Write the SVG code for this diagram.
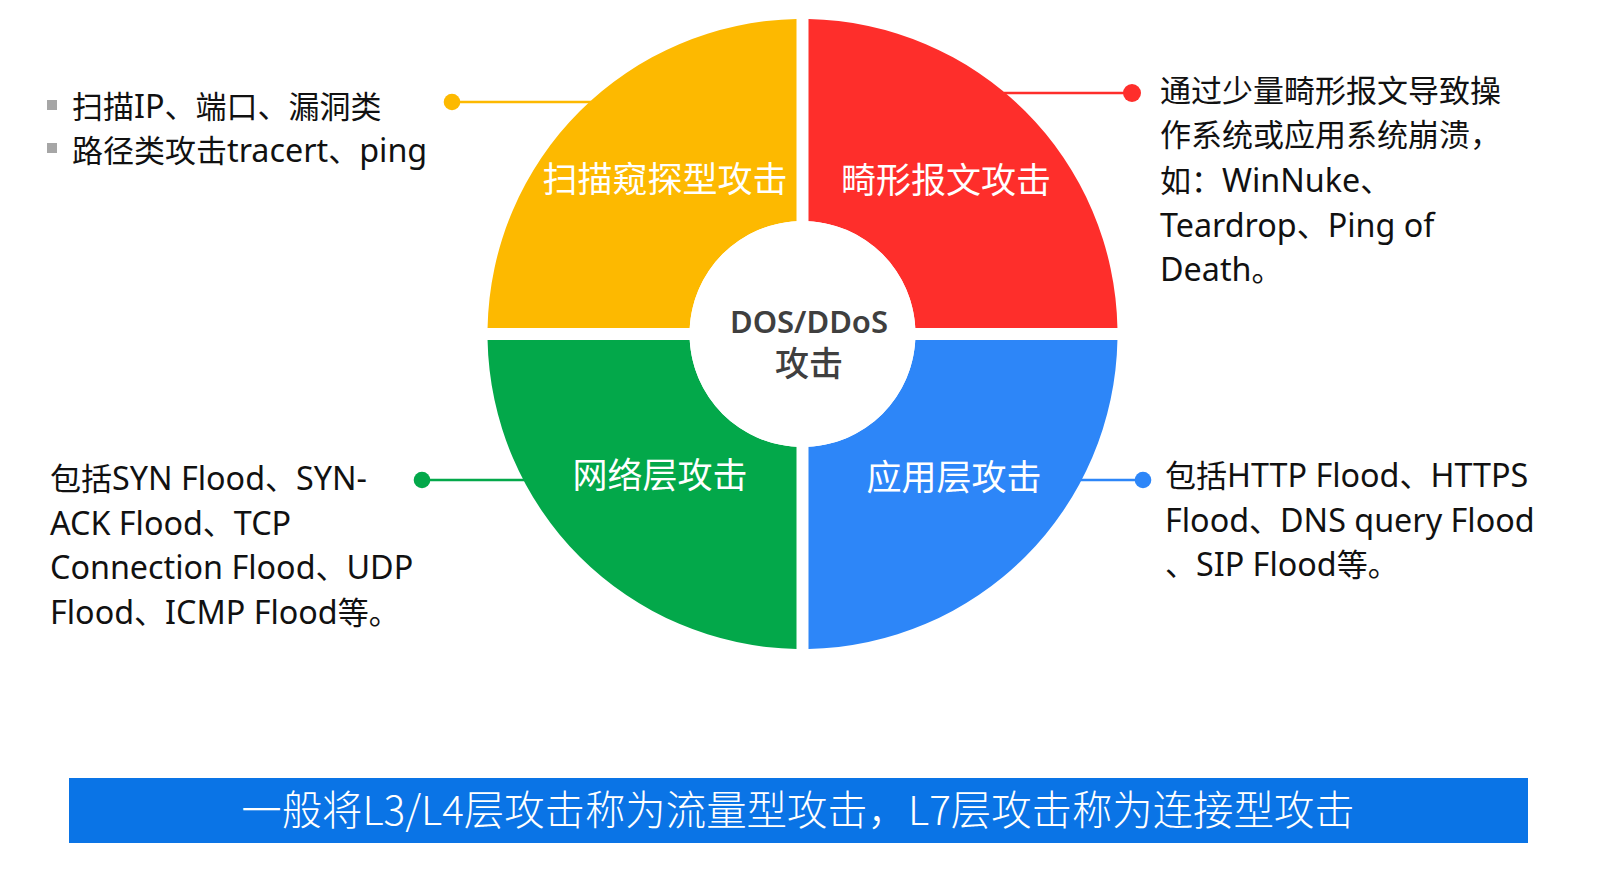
<svg xmlns="http://www.w3.org/2000/svg" width="1604" height="870" viewBox="0 0 1604 870">
  <style>
    .side { font-family: "Noto Sans", "Noto Sans CJK SC", sans-serif; font-size: 31px; fill: #111111; }
    .lt { font-size: 32.3px; }
    .qlabel { font-family: "Noto Sans CJK SC", sans-serif; font-size: 35px; fill: #ffffff; text-anchor: middle; }
    .center { font-family: "Noto Sans", "Noto Sans CJK SC", sans-serif; fill: #3f3f3f; text-anchor: middle; }
    .bullet { fill: #a6a6a6; }
    .conn { stroke-width: 2.5; fill: none; }
    .banner { font-family: "Noto Sans CJK SC", sans-serif; font-weight: 300; font-size: 40.4px; fill: #ffffff; text-anchor: middle; }
  </style>
  <rect width="1604" height="870" fill="#ffffff"/>

  <g id="connectors">
    <line class="conn" x1="452" y1="102" x2="591" y2="102" stroke="#fdb900"/>
    <circle cx="452" cy="102" r="8.3" fill="#fdb900"/>
    <line class="conn" x1="1004" y1="93" x2="1132" y2="93" stroke="#fe2e2b"/>
    <circle cx="1132" cy="93" r="9" fill="#fe2e2b"/>
    <line class="conn" x1="422" y1="480" x2="525" y2="480" stroke="#03a84a"/>
    <circle cx="422" cy="480" r="8.3" fill="#03a84a"/>
    <line class="conn" x1="1080" y1="480" x2="1143" y2="480" stroke="#2d86f8"/>
    <circle cx="1143" cy="480" r="8.3" fill="#2d86f8"/>
  </g>

  <g id="scan">
    <path d="M796.5,19.06 A315,315 0 0 0 487.56,328 L689.66,328 A113,113 0 0 1 796.5,221.16 Z" fill="#fdb900"/>
    <text class="qlabel" x="665" y="192">扫描窥探型攻击</text>
  </g>
  <g id="malformed">
    <path d="M808.5,19.06 A315,315 0 0 1 1117.44,328 L915.34,328 A113,113 0 0 0 808.5,221.16 Z" fill="#fe2e2b"/>
    <text class="qlabel" x="946" y="193">畸形报文攻击</text>
  </g>
  <g id="network">
    <path d="M796.5,648.94 A315,315 0 0 1 487.56,340 L689.66,340 A113,113 0 0 0 796.5,446.84 Z" fill="#03a84a"/>
    <text class="qlabel" x="660" y="488">网络层攻击</text>
  </g>
  <g id="application">
    <path d="M1117.44,340 A315,315 0 0 1 808.5,648.94 L808.5,446.84 A113,113 0 0 0 915.34,340 Z" fill="#2d86f8"/>
    <text class="qlabel" x="954" y="490">应用层攻击</text>
  </g>
  <g id="core">
    <circle cx="802.5" cy="334" r="113" fill="#ffffff"/>
    <text class="center" x="809" y="333" font-size="31" font-weight="600">DOS/DDoS</text>
    <text class="center" x="809" y="376" font-size="34" font-weight="500">攻击</text>
  </g>

  <g id="scan-note">
    <rect class="bullet" x="47" y="100" width="10" height="10"/>
    <rect class="bullet" x="47" y="143" width="10" height="10"/>
    <text class="side" x="72" y="118">扫描<tspan class="lt">IP</tspan>、端口、漏洞类</text>
    <text class="side" x="72" y="162">路径类攻击<tspan class="lt">tracert</tspan>、<tspan class="lt">ping</tspan></text>
  </g>
  <g id="malformed-note">
    <text class="side" x="1160" y="102">通过少量畸形报文导致操</text>
    <text class="side" x="1160" y="146">作系统或应用系统崩溃，</text>
    <text class="side" x="1160" y="192">如：<tspan class="lt">WinNuke</tspan>、</text>
    <text class="side" x="1160" y="237"><tspan class="lt">Teardrop</tspan>、<tspan class="lt">Ping of</tspan></text>
    <text class="side" x="1160" y="281"><tspan class="lt">Death</tspan>。</text>
  </g>
  <g id="network-note">
    <text class="side" x="50" y="490">包括<tspan class="lt">SYN Flood</tspan>、<tspan class="lt">SYN-</tspan></text>
    <text class="side" x="50" y="535"><tspan class="lt">ACK Flood</tspan>、<tspan class="lt">TCP</tspan></text>
    <text class="side" x="50" y="579"><tspan class="lt">Connection Flood</tspan>、<tspan class="lt">UDP</tspan></text>
    <text class="side" x="50" y="624"><tspan class="lt">Flood</tspan>、<tspan class="lt">ICMP Flood</tspan>等。</text>
  </g>
  <g id="application-note">
    <text class="side" x="1165" y="487">包括<tspan class="lt">HTTP Flood</tspan>、<tspan class="lt">HTTPS</tspan></text>
    <text class="side" x="1165" y="532"><tspan class="lt">Flood</tspan>、<tspan class="lt">DNS query Flood</tspan></text>
    <text class="side" x="1165" y="576">、<tspan class="lt">SIP Flood</tspan>等。</text>
  </g>

  <g id="summary">
    <rect x="69" y="778" width="1459" height="65" fill="#0a74e6"/>
    <text class="banner" x="798" y="825">一般将L3/L4层攻击称为流量型攻击，L7层攻击称为连接型攻击</text>
  </g>
</svg>
